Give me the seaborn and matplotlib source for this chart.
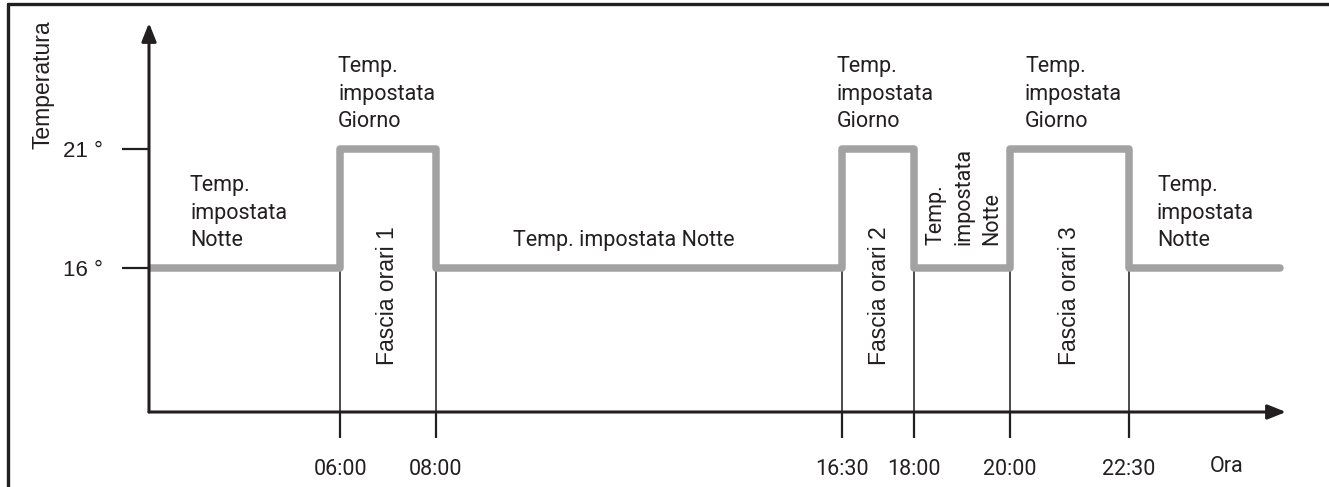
import matplotlib
matplotlib.use("Agg")
import matplotlib.pyplot as plt
from matplotlib.lines import Line2D
import seaborn as sns
import pandas as pd

# ---- data ----
segment_starts = [2.0, 6.0, 8.0, 16.5, 18.0, 20.0, 22.5]
segment_temps = [16, 21, 16, 21, 16, 21, 16]
end_time = 25.65
change_times = [6.0, 8.0, 16.5, 18.0, 20.0, 22.5]
tick_labels = ["06:00", "08:00", "16:30", "18:00", "20:00", "22:30"]
temp_ticks = [16, 21]
temp_labels = ["16 °", "21 °"]

sns.set_theme(style="white")
plt.rcParams["font.family"] = ["Roboto", "DejaVu Sans"]

W, H = 1329, 487
fig = plt.figure(figsize=(W / 100, H / 100), dpi=100)
ax = fig.add_axes([149 / W, 75 / H, (1286 - 149) / W, (464 - 75) / H])

# step line built from the segments
xs, ys, order = [], [], []
ends = segment_starts[1:] + [end_time]
k = 0
for s, e, t in zip(segment_starts, ends, segment_temps):
    for xv in (s, e):
        xs.append(xv); ys.append(t); order.append(k); k += 1
df = pd.DataFrame({"x": xs, "y": ys, "o": order})

ax.set_xlim(2.0, 25.78)
ax.set_ylim(9.95, 26.29)

ax.vlines(change_times, 9.95, 16, colors="#2b2b2b", lw=1.2, zorder=1)
sns.lineplot(data=df, x="x", y="y", sort=False, estimator=None, ax=ax,
             color="#a2a2a2", lw=5.4, zorder=3,
             solid_joinstyle="round", solid_capstyle="round")

for sp in ax.spines.values():
    sp.set_visible(False)

dark = "#231f20"
arrow = dict(arrowstyle="-|>,head_length=0.55,head_width=0.22", color=dark,
             lw=2.2, shrinkA=0, shrinkB=0, mutation_scale=20)
ax.annotate("", xy=(1, 0), xytext=(0, 0), xycoords="axes fraction",
            textcoords="axes fraction", arrowprops=arrow, annotation_clip=False)
ax.annotate("", xy=(0, 1), xytext=(0, 0), xycoords="axes fraction",
            textcoords="axes fraction", arrowprops=arrow, annotation_clip=False)

ax.set_xticks(change_times)
ax.set_xticklabels(tick_labels, fontsize=15.5, color=dark, family=["Roboto"])
ax.set_yticks(temp_ticks)
ax.set_yticklabels(temp_labels, fontsize=16, color=dark, family=["Liberation Sans"])
ax.tick_params(axis="x", bottom=True, direction="out", length=18.7, width=1.6,
               color=dark, pad=15)
ax.tick_params(axis="y", left=True, direction="out", length=19.4, width=1.6,
               color=dark, pad=14)
ax.set_xlabel("")
ax.set_ylabel("")
ax.grid(False)


def fxy(x, y):
    return x / W, 1 - y / H


tf = fig.transFigure
main = dict(fontsize=15.5, color=dark, family=["Roboto"], transform=tf, linespacing=1.42)
arial = dict(fontsize=16.5, color=dark, family=["Liberation Sans"], transform=tf)

fig.text(*fxy(1227, 466), "Ora", ha="center", va="center", **main)
fig.text(*fxy(43, 85), "Temperatura", rotation=90, ha="center", va="center", **arial)

three_night = "Temp.\nimpostata\nNotte"
three_day = "Temp.\nimpostata\nGiorno"
fig.text(*fxy(190, 175), three_night, ha="left", va="top", **main)
fig.text(*fxy(1157, 175), three_night, ha="left", va="top", **main)
for xp in (338, 837, 1025):
    fig.text(*fxy(xp, 56), three_day, ha="left", va="top", **main)
fig.text(*fxy(513, 246), "Temp. impostata Notte", ha="left", va="baseline", **main)
fig.text(*fxy(964, 245), three_night, rotation=90, ha="center", va="bottom",
         multialignment="left", **main)

for xp, lab in zip((387, 880, 1070), ("Fascia orari 1", "Fascia orari 2", "Fascia orari 3")):
    fig.text(*fxy(xp, 296), lab, rotation=90, ha="center", va="center", **arial)

# frame (top and left edges)
fig.add_artist(Line2D([8 / W, 1], [1 - 4 / H, 1 - 4 / H], transform=tf, color=dark, lw=2.4))
fig.add_artist(Line2D([8 / W, 8 / W], [0, 1 - 4 / H], transform=tf, color=dark, lw=2.4))

fig.savefig("out.png", dpi=100)
